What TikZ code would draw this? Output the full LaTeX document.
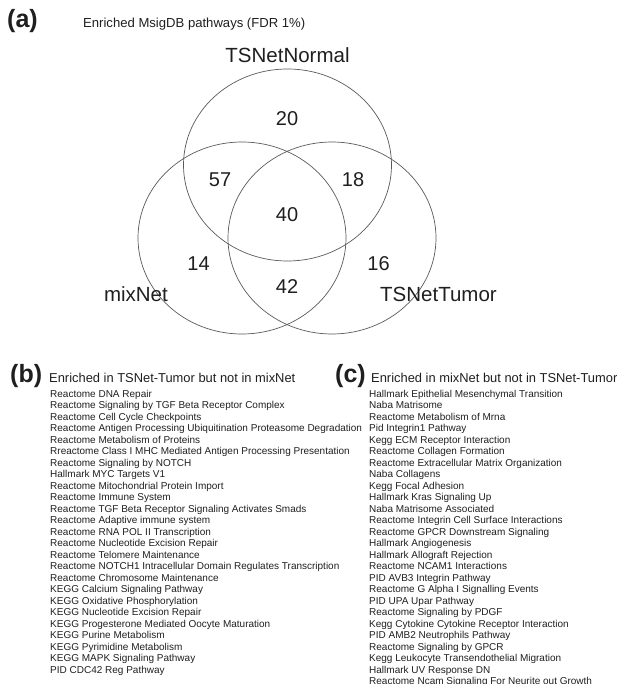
\documentclass[tikz,border=0pt]{standalone}
\usepackage{fontspec}
\setmainfont{Liberation Sans}
\usetikzlibrary{shapes.geometric}

\begin{document}
\begin{tikzpicture}[
		x=1pt, y=-1pt
		,every node/.append style={inner sep=0pt, text=black!88}
		,set/.style={ellipse, draw=black!65, line width=0.7pt, minimum width=208pt, minimum height=192pt}
		,setname/.style={font=\fontsize{20.5}{24}\selectfont}
		,count/.style={font=\fontsize{20}{24}\selectfont}
		,panel/.style={anchor=base west, font=\fontsize{25}{28}\selectfont\bfseries}
		,heading/.style={anchor=base west, font=\fontsize{12.9}{15}\selectfont}
		,item/.style={anchor=base west, font=\fontsize{10}{12}\selectfont}
	]
	\useasboundingbox (0,0) rectangle (617,684);

	% (a) Venn diagram
	\node [panel] (pa) at (7,27.5) {(a)};
	\node [heading, font=\fontsize{13.1}{15}\selectfont] (ta) at (83,27.5) {Enriched MsigDB pathways (FDR 1\%)};

	\node [set] (normal) at (287.5,165) {};
	\node [set] (mix) at (242,238) {};
	\node [set] (tumor) at (332,238) {};

	\node [setname] (lnormal) at (287.5,55) {TSNetNormal};
	\node [setname, anchor=east] (lmix) at (168,294) {mixNet};
	\node [setname, anchor=west] (ltumor) at (380,294) {TSNetTumor};

	\node [count] (n20) at (287,118.5) {20};
	\node [count] (n57) at (220,180) {57};
	\node [count] (n18) at (353,180) {18};
	\node [count] (n40) at (287,215) {40};
	\node [count] (n14) at (198.5,263.5) {14};
	\node [count] (n16) at (378.5,263.5) {16};
	\node [count] (n42) at (287,286.5) {42};

	% (b)
	\node [panel] (pb) at (10,382.5) {(b)};
	\node [heading] (tb) at (49,382.5) {Enriched in TSNet-Tumor but not in mixNet};
	\foreach \txt [count=\i] in {
		Reactome DNA Repair,
		Reactome Signaling by TGF Beta Receptor Complex,
		Reactome Cell Cycle Checkpoints,
		Reactome Antigen Processing Ubiquitination Proteasome Degradation,
		Reactome Metabolism of Proteins,
		Rreactome Class I MHC Mediated Antigen Processing Presentation,
		Reactome Signaling by NOTCH,
		Hallmark MYC Targets V1,
		Reactome Mitochondrial Protein Import,
		Reactome Immune System,
		Reactome TGF Beta Receptor Signaling Activates Smads,
		Reactome Adaptive immune system,
		Reactome RNA POL II Transcription,
		Reactome Nucleotide Excision Repair,
		Reactome Telomere Maintenance,
		Reactome NOTCH1 Intracellular Domain Regulates Transcription,
		Reactome Chromosome Maintenance,
		KEGG Calcium Signaling Pathway,
		KEGG Oxidative Phosphorylation,
		KEGG Nucleotide Excision Repair,
		KEGG Progesterone Mediated Oocyte Maturation,
		KEGG Purine Metabolism,
		KEGG Pyrimidine Metabolism,
		KEGG MAPK Signaling Pathway,
		PID CDC42 Reg Pathway}
		\node [item] (b\i) at (50,{397+(\i-1)*11.5}) {\txt};

	% (c)
	\node [panel] (pc) at (335,382.5) {(c)};
	\node [heading] (tc) at (371,382.5) {Enriched in mixNet but not in TSNet-Tumor};
	\foreach \txt [count=\i] in {
		Hallmark Epithelial Mesenchymal Transition,
		Naba Matrisome,
		Reactome Metabolism of Mrna,
		Pid Integrin1 Pathway,
		Kegg ECM Receptor Interaction,
		Reactome Collagen Formation,
		Reactome Extracellular Matrix Organization,
		Naba Collagens,
		Kegg Focal Adhesion,
		Hallmark Kras Signaling Up,
		Naba Matrisome Associated,
		Reactome Integrin Cell Surface Interactions,
		Reactome GPCR Downstream Signaling,
		Hallmark Angiogenesis,
		Hallmark Allograft Rejection,
		Reactome NCAM1 Interactions,
		PID AVB3 Integrin Pathway,
		Reactome G Alpha I Signalling Events,
		PID UPA Upar Pathway,
		Reactome Signaling by PDGF,
		Kegg Cytokine Cytokine Receptor Interaction,
		PID AMB2 Neutrophils Pathway,
		Reactome Signaling by GPCR,
		Kegg Leukocyte Transendothelial Migration,
		Hallmark UV Response DN,
		Reactome Ncam Signaling For Neurite out Growth}
		\node [item] (c\i) at (369,{397+(\i-1)*11.5}) {\txt};
\end{tikzpicture}
\end{document}
